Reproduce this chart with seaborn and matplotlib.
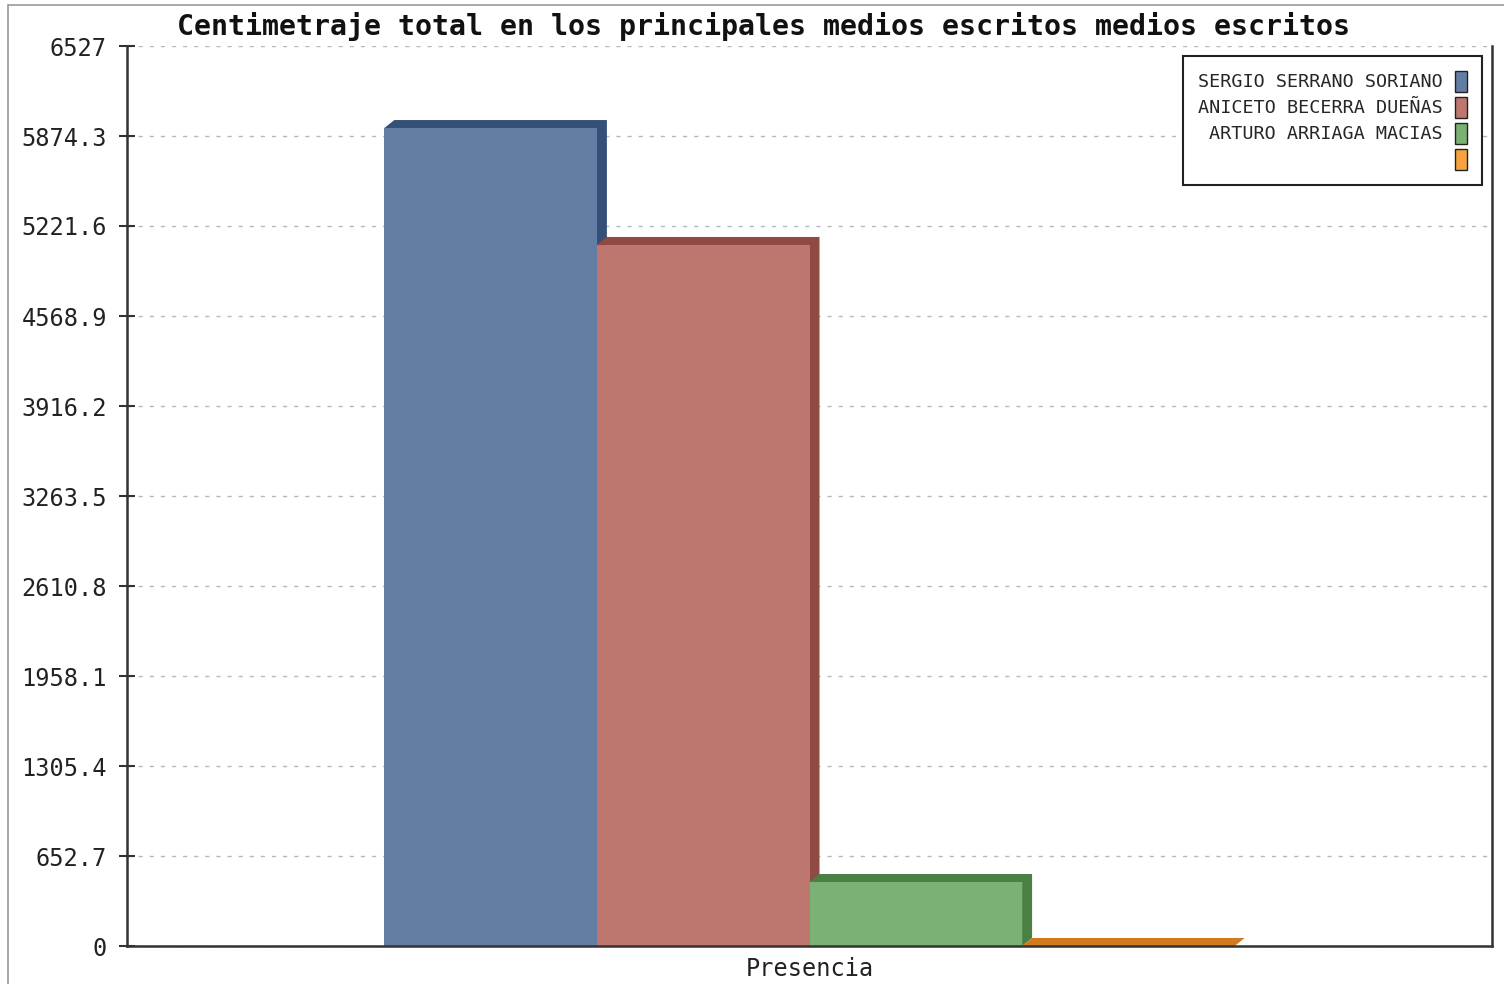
import numpy as np
import pandas as pd
import matplotlib
matplotlib.use("Agg")
import matplotlib.pyplot as plt
import matplotlib.patches as mpatches
import seaborn as sns

# datos
categoria = ["Presencia"]
candidatos = ["SERGIO SERRANO SORIANO", "ANICETO BECERRA DUEÑAS", "ARTURO ARRIAGA MACIAS", " "]
valores = [5932, 5084, 464, 0]
yticks = [0, 652.7, 1305.4, 1958.1, 2610.8, 3263.5, 3916.2, 4568.9, 5221.6, 5874.3, 6527]
ytick_labels = ["0", "652.7", "1305.4", "1958.1", "2610.8", "3263.5", "3916.2",
                "4568.9", "5221.6", "5874.3", "6527"]

colores = ["#647da5", "#bd776f", "#7bb174", "#f7a340"]
oscuros = ["#344f78", "#8f4a43", "#4b8044", "#d27a1e"]

df = pd.DataFrame({"medio": categoria * len(candidatos),
                   "candidato": candidatos,
                   "valor": valores})

sns.set_style("white")
plt.rcParams['font.family'] = ['DejaVu Sans Mono', 'DejaVu Sans']

fig = plt.figure(figsize=(15.04, 9.84), dpi=100)
ax = fig.add_axes([127/1504, 38/984, 1365/1504, 900/984])

sns.barplot(data=df, x="medio", y="valor", hue="candidato", hue_order=candidatos,
            palette=colores, saturation=1, width=0.623, dodge=True,
            linewidth=0, legend=False, ax=ax, zorder=2)

ax.set_xlim(-0.5, 0.5)
ax.set_ylim(0, 6527)

# efecto 3D: caras superior y lateral
dx = 10 / 1365 * 1.0
dy = 8 / 900 * 6527
for i, bar in enumerate(ax.patches[:len(candidatos)]):
    x0 = bar.get_x()
    x1 = x0 + bar.get_width()
    y1 = bar.get_height()
    cara = mpatches.Polygon([(x0, y1), (x0 + dx, y1 + dy), (x1 + dx, y1 + dy),
                             (x1 + dx, min(dy, y1 + dy)), (x1, 0), (x1, y1)],
                            closed=True, facecolor=oscuros[i], edgecolor="none",
                            zorder=2 + i * 0.1, clip_on=False)
    ax.add_patch(cara)
    bar.set_zorder(2.05 + i * 0.1)

ax.set_yticks(yticks)
ax.set_yticklabels(ytick_labels)
ax.set_xlabel("")
ax.set_ylabel("")
ax.yaxis.grid(True, color="#b8b8b8", linestyle=(0, (3, 5)), linewidth=1)
ax.set_axisbelow(True)
ax.tick_params(axis="y", direction="inout", length=11, width=1.5, color="#333333",
               labelsize=17, pad=9, labelcolor="#222222", left=True)
ax.tick_params(axis="x", length=0, labelsize=17, pad=8, labelcolor="#222222")

for lado in ["left", "bottom", "right"]:
    ax.spines[lado].set_visible(True)
    ax.spines[lado].set_color("#333333")
    ax.spines[lado].set_linewidth(1.8)
ax.spines["top"].set_visible(False)

ax.set_title("Centimetraje total en los principales medios escritos medios escritos",
             fontsize=20.3, fontweight="bold", pad=8, color="#111111", x=0.466)

handles = [mpatches.Patch(facecolor=c, edgecolor="#222222", linewidth=1) for c in colores]
leg = ax.legend(handles, candidatos, loc="upper right", bbox_to_anchor=(0.9927, 0.989),
                borderaxespad=0, markerfirst=False, fancybox=False, framealpha=1,
                edgecolor="#222222", fontsize=13.3, handlelength=0.65, handleheight=1.4,
                labelspacing=0.25, handletextpad=0.7, borderpad=0.8)
leg.get_frame().set_linewidth(1.5)

marco = mpatches.Rectangle((8/1504, -0.1), 1.2, 1 - 5/984 + 0.1, transform=fig.transFigure,
                           fill=False, edgecolor="#999999", linewidth=1.2)
fig.patches.append(marco)

plt.savefig("out.png", dpi=100)
